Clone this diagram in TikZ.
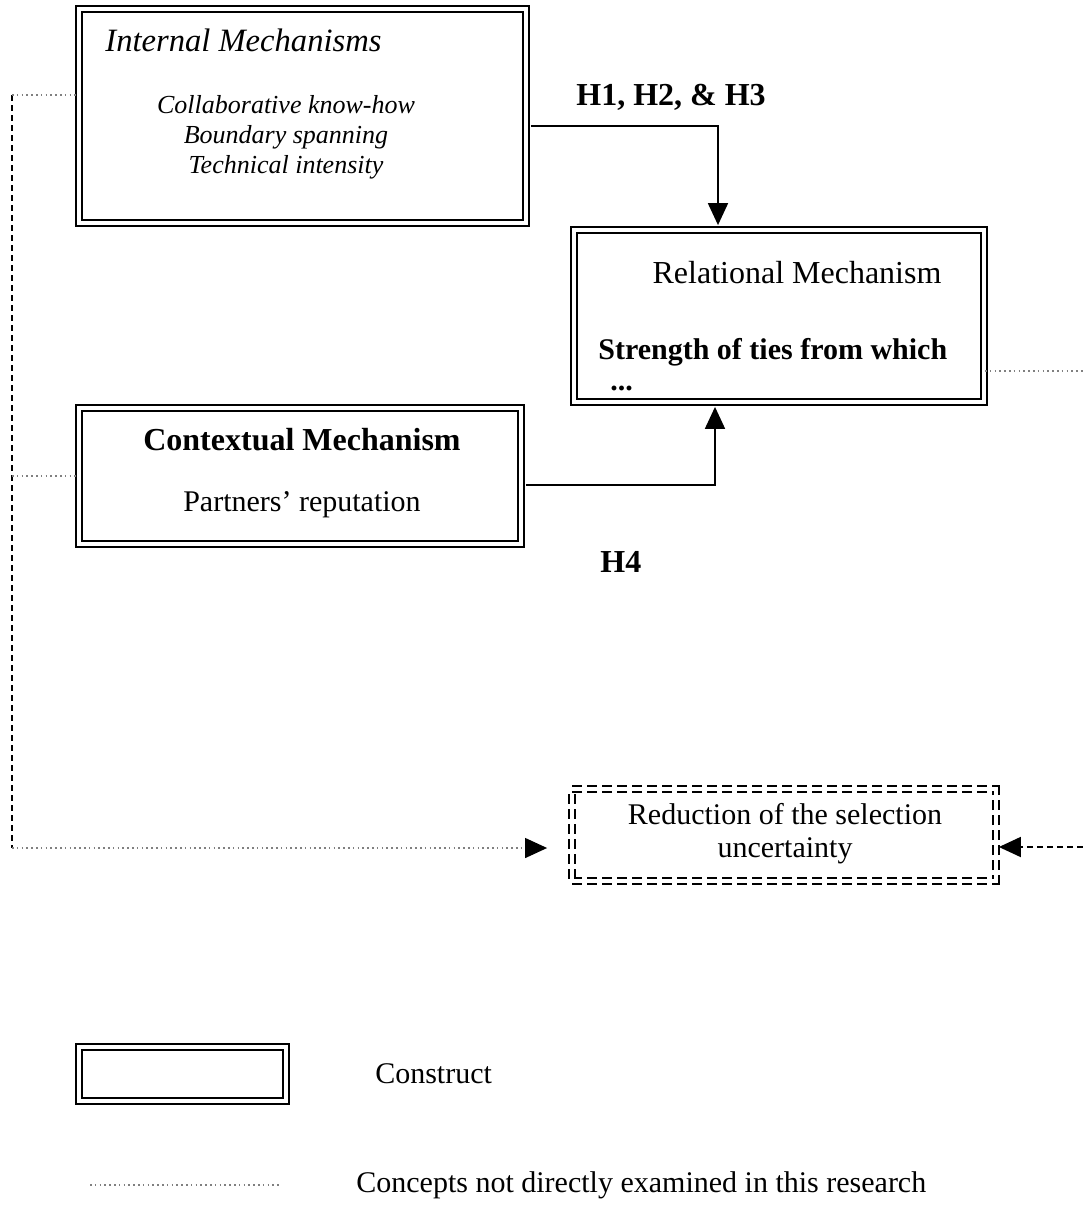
\documentclass[tikz,border=0pt]{standalone}
\usepackage{fontspec}
\setmainfont{Liberation Serif}
\usetikzlibrary{positioning,arrows.meta}
\newcommand{\bodyfs}{\fontsize{15}{15}\selectfont}
\newcommand{\headfs}{\fontsize{16}{18}\selectfont}

\begin{document}
\begin{tikzpicture}[x=0.5pt, y=-0.5pt,
  construct/.style={draw, line width=0.9pt, double, double distance=2.2pt, inner sep=0pt},
  unseen/.style={construct, dash pattern=on 5pt off 2.5pt},
  lbl/.style={font=\bodyfs, inner sep=0pt},
  arr/.style={-{Triangle[length=11pt, width=10pt]}, line width=0.9pt},
  dotline/.style={gray, line width=0.6pt, dash pattern=on 0.8pt off 1.6pt},
  dashline/.style={line width=0.9pt, dash pattern=on 3pt off 2pt}]
  \useasboundingbox (0,0) rectangle (1083,1207);

  % constructs
  \node[construct, minimum width=223.5pt, minimum height=107pt] (int) at (302.5,116) {};
  \node[construct, minimum width=205pt, minimum height=86pt] (rel) at (779,316) {};
  \node[construct, minimum width=221pt, minimum height=68pt] (ctx) at (300,476) {};
  \node[unseen, minimum width=212pt, minimum height=46pt] (red) at (784,835) {};

  % box texts
  \node[lbl, font=\fontsize{16.3}{18}\selectfont\itshape, anchor=west] (intT) at (105,40) {Internal Mechanisms};
  \node[lbl, font=\fontsize{13}{15}\selectfont\itshape, align=center] (intL) at (286,137) {Collaborative know-how\\Boundary spanning\\Technical intensity};
  \node[lbl, font=\headfs] (relT) at (797,273) {Relational Mechanism};
  \node[lbl, font=\bodyfs\bfseries, anchor=west] (relL) at (598,352) {Strength of ties from which};
  \node[lbl, font=\bodyfs\bfseries, anchor=west] (relD) at (610,388) {...};
  \node[lbl, font=\headfs\bfseries] (ctxT) at (302,440) {Contextual Mechanism};
  \node[lbl] (ctxL) at (302,505) {Partners' reputation};
  \node[lbl, font=\fontsize{15}{16.5}\selectfont, align=center] (redT) at (785,834) {Reduction of the selection\\uncertainty};

  % hypotheses
  \node[lbl, font=\headfs\bfseries, anchor=west] (hA) at (576,97) {H1, H2, \& H3};
  \node[lbl, font=\headfs\bfseries, anchor=west] (hB) at (600,562) {H4};
  \draw[arr, shorten <=2pt, shorten >=2pt] ([yshift=-5pt]int.east) -| ([xshift=-30.5pt]rel.north);
  \draw[arr, shorten <=2pt, shorten >=2pt] ([yshift=-4.5pt]ctx.east) -| ([xshift=-32pt]rel.south);

  % links outside the study
  \coordinate (vTop) at (12,95);
  \coordinate (vBot) at (12,848);
  \coordinate (relOut) at (1083,371);
  \coordinate (redIn) at (1083,847);
  \draw[dashline] (vTop) -- (vBot);
  \draw[dotline] (vTop) -- (int.west |- vTop);
  \draw[dotline] (vTop |- ctx.west) -- (ctx.west);
  \draw[dotline, -{Triangle[length=11pt, width=10pt, black]}, shorten >=12pt] (vBot) -- (red.west |- vBot);
  \draw[dotline] (rel.east |- relOut) -- (relOut);
  \draw[dashline, -{Triangle[length=11pt, width=10pt]}, shorten >=1pt] (redIn) -- (red.east |- redIn);

  % legend
  \node[construct, minimum width=103.5pt, minimum height=27pt] (lgBox) at (182.5,1074) {};
  \node[lbl, right=44pt of lgBox] (lgBoxT) {Construct};
  \coordinate (lgA) at (90,1185);
  \coordinate (lgB) at (280,1185);
  \draw[dotline] (lgA) -- (lgB);
  \node[lbl, right=38pt of lgB] (lgLineT) {Concepts not directly examined in this research};
\end{tikzpicture}
\end{document}
